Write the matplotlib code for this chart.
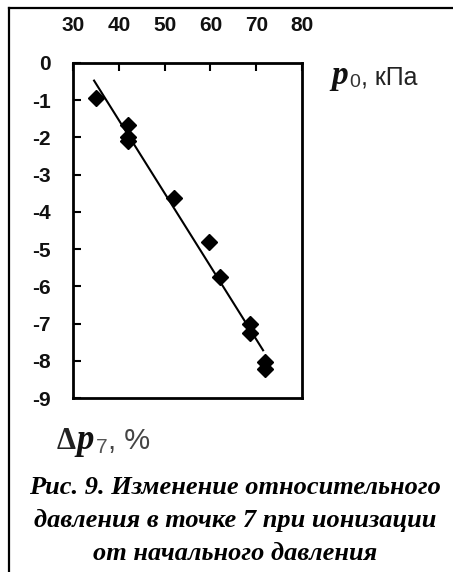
import matplotlib
matplotlib.use("Agg")
import matplotlib.pyplot as plt
import numpy as np
from matplotlib.lines import Line2D

# data
p0 = [35.0, 42.0, 42.0, 42.0, 52.0, 59.7, 62.0, 68.6, 68.6, 72.0, 72.0]
dp7 = [-0.95, -1.67, -1.98, -2.10, -3.62, -4.80, -5.75, -7.00, -7.26, -8.04, -8.23]
fit_range = [34.6, 71.5]
xticks = [30, 40, 50, 60, 70, 80]
yticks = [0, -1, -2, -3, -4, -5, -6, -7, -8, -9]
caption = ["Рис. 9. Изменение относительного",
           "давления в точке 7 при ионизации",
           "от начального давления"]

W, H = 453, 572
fig = plt.figure(figsize=(W / 100, H / 100), dpi=100)

def fx(px):
    return px / W

def fy(py):
    return 1 - py / H

ax = fig.add_axes([fx(73), fy(398), fx(302) - fx(73), fy(63) - fy(398)])
ax.set_xlim(30, 80)
ax.set_ylim(-9, 0)

ax.plot(p0, dp7, linestyle='none', marker='D', markersize=8.5, color='black')
coef = np.polyfit(p0, dp7, 1)
xf = np.array(fit_range)
ax.plot(xf, np.polyval(coef, xf), color='black', linewidth=1.5)

ax.xaxis.tick_top()
ax.set_xticks(xticks)
ax.set_yticks(yticks)
ax.set_xticklabels([str(t) for t in xticks], fontfamily='Liberation Sans',
                   fontweight='bold', fontsize=15, color='#111111')
ax.set_yticklabels([str(t) for t in yticks], fontfamily='Liberation Sans',
                   fontweight='bold', fontsize=15, color='#111111')
ax.tick_params(axis='x', direction='in', length=6, width=1.5, pad=20, top=True, bottom=False)
ax.tick_params(axis='y', direction='in', length=6, width=1.5, pad=16)
for s in ax.spines.values():
    s.set_linewidth(2)

# axis labels
fig.text(fx(331), fy(84), "p", fontfamily='Liberation Serif', fontweight='bold',
         fontstyle='italic', fontsize=24, color='#111111', va='baseline')
fig.text(fx(349), fy(87), "0", fontfamily='Liberation Sans', fontsize=14,
         color='#333333', va='baseline')
fig.text(fx(361), fy(85), ", кПа", fontfamily='Liberation Sans', fontsize=18,
         color='#222222', va='baseline')

fig.text(fx(57), fy(449), "Δ", fontfamily='Liberation Serif', fontweight='bold',
         fontsize=22, color='#222222', va='baseline')
fig.text(fx(76), fy(449), "p", fontfamily='Liberation Serif', fontweight='bold',
         fontstyle='italic', fontsize=25, color='#111111', va='baseline')
fig.text(fx(96), fy(453), "7", fontfamily='Liberation Sans', fontsize=15,
         color='#555555', va='baseline')
fig.text(fx(108), fy(449), ", %", fontfamily='Liberation Sans', fontsize=21,
         color='#444444', va='baseline')

# caption
for i, line in enumerate(caption):
    fig.text(fx(235), fy(487 + 33 * i), line, fontfamily='Liberation Serif',
             fontweight='bold', fontstyle='italic', fontsize=19,
             ha='center', va='center', color='black')

# frame
fig.add_artist(Line2D([fx(9), 1], [fy(8), fy(8)], color='black', linewidth=1.6))
fig.add_artist(Line2D([fx(9), fx(9)], [fy(8), 0], color='black', linewidth=1.6))

fig.savefig("out.png", dpi=100)
